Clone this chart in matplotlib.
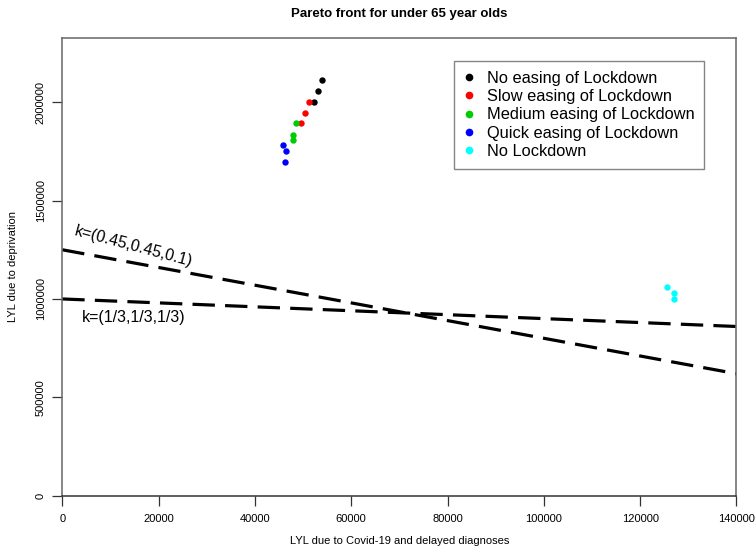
import numpy as np
import matplotlib
matplotlib.use("Agg")
import matplotlib.pyplot as plt

plt.rcParams['font.family'] = ['Liberation Sans', 'DejaVu Sans']

# points (LYL covid, LYL deprivation)
no_easing_x = [53980, 53150, 52320]
no_easing_y = [2115000, 2059000, 2003000]
slow_x = [51220, 50450, 49620]
slow_y = [2003000, 1947000, 1893000]
medium_x = [48520, 47830, 47830]
medium_y = [1893000, 1835000, 1808000]
quick_x = [45880, 46380, 46290]
quick_y = [1783000, 1754000, 1698000]
no_lock_x = [125600, 127050, 127050]
no_lock_y = [1059500, 1029000, 1001500]

labels = ["No easing of Lockdown", "Slow easing of Lockdown",
          "Medium easing of Lockdown", "Quick easing of Lockdown", "No Lockdown"]
colors = ["black", "#FF0000", "#00CD00", "#0000FF", "#00FFFF"]

# iso-utility lines: y = intercept + slope * x
line_intercepts = [1250000, 1000000]
line_slopes = [-4.5, -1.0]
line_labels = ["k=(0.45,0.45,0.1)", "k=(1/3,1/3,1/3)"]

xticks = np.arange(0, 140001, 20000)
yticks = [0, 500000, 1000000, 1500000, 2000000]

fig = plt.figure(figsize=(7.56, 5.56), dpi=100)
ax = fig.add_axes([0.0824, 0.1085, 0.8918, 0.8237])

series = [(no_easing_x, no_easing_y), (slow_x, slow_y), (medium_x, medium_y),
          (quick_x, quick_y), (no_lock_x, no_lock_y)]
for (xs, ys), c, lab in zip(series, colors, labels):
    ax.plot(xs, ys, 'o', color=c, markersize=4.6, markeredgewidth=0, label=lab)

xx = np.array([0, 140000])
for b, m in zip(line_intercepts, line_slopes):
    ax.plot(xx, b + m * xx, color="black", lw=2.3, linestyle=(0, (7, 3.2)))

ax.text(2600, 1345000, line_labels[0], fontsize=11.5, rotation=-15,
        rotation_mode='anchor', ha='left', va='center')
ax.text(4000, 905000, line_labels[1], fontsize=11.5, ha='left', va='center')

ax.set_xlim(0, 140000)
ax.set_ylim(0, 2328000)
ax.set_xticks(xticks)
ax.set_xticklabels([str(v) for v in xticks])
ax.set_yticks(yticks)
ax.set_yticklabels([str(v) for v in yticks], rotation=90, va='center')
ax.tick_params(direction='out', length=7, width=0.9, labelsize=8,
               color='#333333')
ax.tick_params(axis='x', pad=6.5)
ax.tick_params(axis='y', pad=5)
for s in ax.spines.values():
    s.set_color('#666666')
    s.set_linewidth(1.1)
ax.spines['bottom'].set_color('#333333')

ax.set_xlabel("LYL due to Covid-19 and delayed diagnoses", fontsize=8, labelpad=8)
ax.set_ylabel("LYL due to deprivation", fontsize=8, labelpad=13)
ax.set_title("Pareto front for under 65 year olds", fontsize=9.5, fontweight='bold', pad=15)

leg = ax.legend(loc='upper left', bbox_to_anchor=(0.581, 0.949), borderaxespad=0,
                fontsize=11.8, frameon=True, fancybox=False, handlelength=0.6,
                handletextpad=0.8, labelspacing=0.2, borderpad=0.6, markerscale=1.2)
leg.get_frame().set_edgecolor('#666666')
leg.get_frame().set_linewidth(1.0)

fig.savefig("out.png", dpi=100)
